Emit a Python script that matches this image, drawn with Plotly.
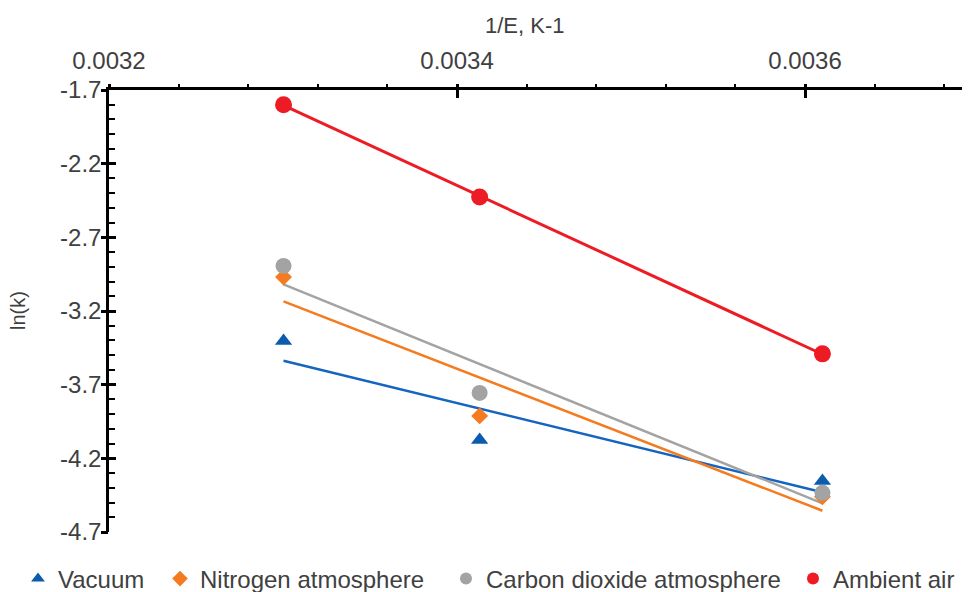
import numpy as np
import plotly.graph_objects as go

# data
inv_T = [0.0033003, 0.003413, 0.00361]
series_names = ["Vacuum", "Nitrogen atmosphere", "Carbon dioxide atmosphere", "Ambient air"]
vacuum = [-3.403, -4.075, -4.353]
nitrogen = [-2.969, -3.912, -4.461]
co2 = [-2.894, -3.756, -4.434]
ambient = [-1.800, -2.426, -3.491]

x_tickvals = [0.0032, 0.0034, 0.0036]
x_ticktext = ["0.0032", "0.0034", "0.0036"]
y_tickvals = [-4.7, -4.2, -3.7, -3.2, -2.7, -2.2, -1.7]
y_ticktext = ["-4.7", "-4.2", "-3.7", "-3.2", "-2.7", "-2.2", "-1.7"]

colors = ["#0B5CAD", "#F47B20", "#A3A3A3", "#ED1C24"]
line_colors = ["#1565C0", "#F47B20", "#A3A3A3", "#ED1C24"]
line_widths = [2.5, 2.5, 2.5, 3]
symbols = ["triangle-up", "diamond", "circle", "circle"]
sizes = [15, 13, 16, 17]
legend_ids = ["legend", "legend2", "legend3", "legend4"]
legend_left_px = [10, 152, 438, 785]
all_y = [vacuum, nitrogen, co2, ambient]

# page body has an 8px margin, so the figure is 8px smaller each way
W, H = 962, 584
fig = go.Figure()

# trendlines (linear least squares, like spreadsheet trendlines)
xs = np.array(inv_T)
for ys, lc, lw in zip(all_y, line_colors, line_widths):
    k, b = np.polyfit(xs, np.array(ys), 1)
    xl = np.array([xs.min(), xs.max()])
    fig.add_trace(go.Scatter(x=xl, y=k * xl + b, mode="lines",
                             line=dict(color=lc, width=lw),
                             showlegend=False, hoverinfo="skip"))

for name, ys, c, s, sz, lg in zip(series_names, all_y, colors, symbols, sizes, legend_ids):
    fig.add_trace(go.Scatter(x=inv_T, y=ys, mode="markers", name=name, legend=lg,
                             marker=dict(color=c, symbol=s, size=sz)))

# dummy trace to activate overlay axes (for the outer half of crossing ticks)
fig.add_trace(go.Scatter(x=[None], y=[None], xaxis="x2", yaxis="y2",
                         showlegend=False, hoverinfo="skip"))

xr = [0.0032, 0.0036948]
yr = [-4.7, -1.7]
font = "Liberation Sans, Arial, sans-serif"

legends = {}
for lg, lx in zip(legend_ids, legend_left_px):
    legends[lg] = dict(orientation="h", xref="container", yref="container",
                       x=lx / W, xanchor="left", y=13 / H, yanchor="middle",
                       font=dict(size=24, color="#404040"), itemsizing="constant",
                       itemwidth=30, bgcolor="rgba(0,0,0,0)", borderwidth=0)

fig.update_layout(
    width=W, height=H,
    margin=dict(l=101, r=0, t=82, b=60),
    paper_bgcolor="white", plot_bgcolor="white",
    font=dict(family=font, size=24, color="#404040"),
    xaxis=dict(range=xr, side="top", tickvals=x_tickvals, ticktext=x_ticktext,
               showgrid=False, zeroline=False, showline=True, automargin=False,
               linecolor="black", linewidth=2.5,
               ticks="inside", ticklen=8, tickwidth=2.5, tickcolor="black",
               ticklabelstandoff=9,
               minor=dict(dtick=0.00004, ticks="outside", ticklen=3,
                          tickwidth=2, tickcolor="black", showgrid=False),
               tickfont=dict(size=24, color="#404040")),
    yaxis=dict(range=yr, tickvals=y_tickvals, ticktext=y_ticktext,
               showgrid=False, zeroline=False, showline=True, automargin=False,
               linecolor="black", linewidth=2.5,
               ticks="inside", ticklen=7, tickwidth=2.5, tickcolor="black",
               ticklabelstandoff=0,
               minor=dict(dtick=0.1, ticks="inside", ticklen=6,
                          tickwidth=2, tickcolor="black", showgrid=False),
               tickfont=dict(size=24, color="#404040")),
    xaxis2=dict(range=xr, overlaying="x", side="top", tickvals=x_tickvals,
                showticklabels=False, showgrid=False, zeroline=False, automargin=False,
                showline=False, ticks="outside", ticklen=5, tickwidth=2.5,
                tickcolor="black"),
    yaxis2=dict(range=yr, overlaying="y", side="left", tickvals=y_tickvals,
                showticklabels=False, showgrid=False, zeroline=False, automargin=False,
                showline=False, ticks="outside", ticklen=7, tickwidth=2.5,
                tickcolor="black"),
    showlegend=True,
    **legends,
)

fig.add_annotation(text="1/E, K-1", xref="paper", yref="paper",
                   x=0.483, y=1.0, yshift=65, xanchor="center", yanchor="middle",
                   showarrow=False, font=dict(size=22, color="#404040", family=font))
fig.add_annotation(text="ln(k)", xref="paper", yref="paper",
                   x=0.0, xshift=-91, y=0.5, textangle=-90,
                   xanchor="center", yanchor="middle",
                   showarrow=False, font=dict(size=20, color="#404040", family=font))

fig.write_html("out.html")
